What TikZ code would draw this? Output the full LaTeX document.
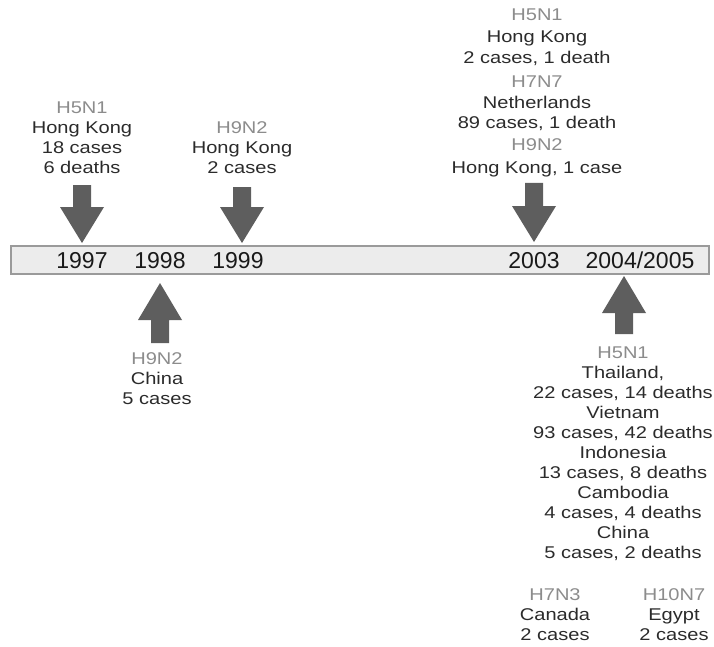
\documentclass[tikz,border=0pt]{standalone}
\usepackage{fontspec}
\setmainfont{Liberation Sans}
\newfontfamily\labfont[FakeStretch=1.18]{Liberation Sans}
\newfontfamily\yearfont{Liberation Sans}
\definecolor{straingray}{HTML}{8C8C8C}
\definecolor{txtgray}{HTML}{2B2B2B}
\definecolor{arrowgray}{HTML}{5E5E5E}
\definecolor{barfill}{HTML}{ECECEC}
\definecolor{barline}{HTML}{9A9A9A}
\newcommand{\arrdown}[3]{% x, top, tip
  \fill[arrowgray] (#1-9,#2) -- (#1+9,#2) -- (#1+9,#3-36) -- (#1+22,#3-36) -- (#1,#3)
    -- (#1-22,#3-36) -- (#1-9,#3-36) -- cycle;}
\newcommand{\arrup}[3]{% x, tip, bottom
  \fill[arrowgray] (#1,#2) -- (#1+22,#2+37) -- (#1+9,#2+37) -- (#1+9,#3) -- (#1-9,#3)
    -- (#1-9,#2+37) -- (#1-22,#2+37) -- cycle;}
\begin{document}
\begin{tikzpicture}[x=1pt,y=-1pt,
  lbl/.style={font=\labfont\fontsize{17}{20}\selectfont, text=txtgray, anchor=base, inner sep=0pt},
  strainlbl/.style={lbl, text=straingray},
  yearlbl/.style={font=\yearfont\fontsize{23}{26}\selectfont, text=black!90, anchor=base, inner sep=0pt}]
\useasboundingbox (0,0) rectangle (714,647);
% timeline bar
\node[draw=barline, fill=barfill, line width=1.5pt, minimum width=698pt, minimum height=28pt,
  inner sep=0pt, anchor=north west] (bar) at (10,245) {};
\node[yearlbl] (y97) at (82,268) {1997};
\node[yearlbl] (y98) at (160,268) {1998};
\node[yearlbl] (y99) at (238,268) {1999};
\node[yearlbl] (y03) at (534,268) {2003};
\node[yearlbl] (y04) at (640,268) {2004/2005};
% arrows
\arrdown{82}{185}{243}
\arrdown{242}{187}{243}
\arrdown{534}{183}{242}
\arrup{160}{283}{343}
\arrup{624}{276}{334}
% 1997
\node[strainlbl] (a1) at (82,114) {H5N1};
\node[lbl] (a2) at (82,134) {Hong Kong};
\node[lbl] (a3) at (82,154) {18 cases};
\node[lbl] (a4) at (82,174) {6 deaths};
% 1999
\node[strainlbl] (b1) at (242,134) {H9N2};
\node[lbl] (b2) at (242,154) {Hong Kong};
\node[lbl] (b3) at (242,174) {2 cases};
% 2003
\node[strainlbl] (c1) at (537,21) {H5N1};
\node[lbl] (c2) at (537,43) {Hong Kong};
\node[lbl] (c3) at (537,64) {2 cases, 1 death};
\node[strainlbl] (c4) at (537,88) {H7N7};
\node[lbl] (c5) at (537,109) {Netherlands};
\node[lbl] (c6) at (537,129) {89 cases, 1 death};
\node[strainlbl] (c7) at (537,151) {H9N2};
\node[lbl] (c8) at (537,174) {Hong Kong, 1 case};
% 1998
\node[strainlbl] (d1) at (157,364) {H9N2};
\node[lbl] (d2) at (157,384) {China};
\node[lbl] (d3) at (157,404) {5 cases};
% 2004/2005
\node[strainlbl] (e1) at (623,358) {H5N1};
\node[lbl] (e2) at (623,378) {Thailand,};
\node[lbl] (e3) at (623,398) {22 cases, 14 deaths};
\node[lbl] (e4) at (623,418) {Vietnam};
\node[lbl] (e5) at (623,438) {93 cases, 42 deaths};
\node[lbl] (e6) at (623,458) {Indonesia};
\node[lbl] (e7) at (623,478) {13 cases, 8 deaths};
\node[lbl] (e8) at (623,498) {Cambodia};
\node[lbl] (e9) at (623,518) {4 cases, 4 deaths};
\node[lbl] (e10) at (623,538) {China};
\node[lbl] (e11) at (623,558) {5 cases, 2 deaths};
% bottom
\node[strainlbl] (f1) at (555,600) {H7N3};
\node[lbl] (f2) at (555,620) {Canada};
\node[lbl] (f3) at (555,640) {2 cases};
\node[strainlbl] (g1) at (674,600) {H10N7};
\node[lbl] (g2) at (674,620) {Egypt};
\node[lbl] (g3) at (674,640) {2 cases};
\end{tikzpicture}
\end{document}
